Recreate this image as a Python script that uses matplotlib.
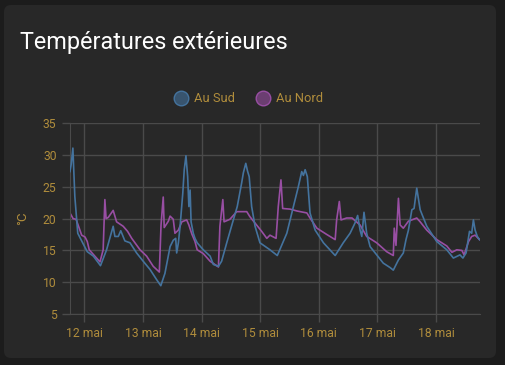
import matplotlib
matplotlib.use("Agg")
import matplotlib.pyplot as plt
import matplotlib.dates as mdates
import matplotlib.patches as mpatches
from matplotlib.lines import Line2D
from matplotlib.transforms import IdentityTransform
import pandas as pd

# heures depuis le 12 mai 00:00
sud_h = [-5.9, -5.4, -4.7, -3.9, -2.7, -0.7, 1.2, 3.7, 6.6, 9.1, 11.8, 12.5, 13.9, 14.9,
         16.6, 18.7, 21.4, 24.1, 26.9, 29.6, 31.3, 33.0, 35.1, 36.4, 37.4, 37.8, 38.5,
         39.2, 40.3, 40.9, 41.6, 42.3, 42.8, 43.3, 43.7, 44.6, 45.3, 46.2, 48.7, 51.5,
         52.8, 54.9, 56.2, 58.3, 61.0, 62.6, 64.4, 65.1, 66.1, 66.8, 67.5, 68.5, 69.9,
         71.9, 76.0, 79.0, 82.9, 85.6, 87.6, 89.0, 89.7, 90.4, 91.3, 92.4, 94.5, 97.9,
         102.7, 106.0, 108.8, 110.8, 111.9, 112.9, 113.6, 114.5, 115.6, 117.0, 119.7,
         122.4, 125.2, 126.5, 128.6, 130.6, 131.7, 132.7, 134.1, 135.0, 136.1, 137.5,
         140.2, 144.3, 148.4, 151.1, 153.8, 155.0, 156.3, 157.7, 158.6, 159.3, 160.0,
         160.9, 161.8]
sud_t = [27.4, 28.5, 31.1, 23.5, 17.7, 16.2, 14.8, 14.1, 12.6, 15.1, 18.8, 17.2, 17.2, 18.1,
         16.5, 16.2, 14.6, 13.3, 12.0, 10.4, 9.45, 11.4, 15.6, 16.6, 16.9, 14.6, 16.2,
         18.8, 24.0, 27.7, 29.9, 26.6, 21.9, 24.5, 19.5, 17.7, 16.9, 16.2, 15.1, 14.1,
         12.8, 12.5, 13.3, 16.2, 19.8, 21.9, 25.6, 27.2, 28.7, 27.5, 26.6, 21.9, 18.8,
         16.2, 15.1, 14.2, 17.7, 21.9, 25.0, 27.4, 26.8, 27.7, 26.6, 20.9, 18.2, 16.2,
         14.2, 16.2, 17.7, 19.3, 20.5, 18.2, 17.2, 21.0, 17.7, 15.6, 14.3,
         13.0, 12.3, 11.9, 13.5, 14.6, 16.7, 18.2, 21.4, 21.6, 24.8, 21.4,
         18.8, 16.4, 15.1, 13.8, 14.3, 13.8, 14.6, 18.0, 17.7, 19.8, 18.2,
         17.2, 16.7]

nord_h = [-5.9, -4.6, -3.4, -2.1, -1.1, 0.3, 1.2, 2.0, 4.3, 6.4, 7.7, 8.4, 8.9, 9.8, 11.8,
          13.2, 15.9, 17.7, 19.4, 22.8, 25.5, 28.2, 30.7, 31.4, 32.3, 32.7, 34.4, 35.1,
          36.4, 37.1, 38.5, 39.9, 41.9, 42.8, 44.0, 45.3, 46.2, 48.7, 51.5, 54.9, 55.5,
          56.7, 57.2, 59.6, 62.4, 66.5, 67.8, 69.9, 72.6, 74.7, 76.0, 78.5, 79.4, 80.5,
          81.2, 84.2, 87.1, 91.1, 92.4, 95.2, 99.3, 102.7, 103.3, 104.4, 105.1, 107.4,
          109.6, 112.9, 115.6, 119.7, 123.8, 126.5, 126.9, 127.6, 128.6, 129.3, 130.6,
          132.7, 136.1, 137.5, 140.2, 144.3, 148.4, 150.5, 152.5, 154.6, 155.5, 157.3,
          158.6, 160.0, 161.8]
nord_t = [20.9, 20.0, 19.9, 18.5, 17.4, 17.1, 16.4, 15.1, 14.1, 13.2, 15.1, 23.0, 20.0, 20.2, 21.3,
          19.5, 18.8, 18.0, 16.9, 15.1, 14.1, 12.5, 11.6, 19.0, 23.4, 18.6, 19.6, 20.4,
          19.9, 17.7, 18.2, 19.5, 19.8, 19.0, 17.6, 16.4, 15.1, 14.5, 13.3, 12.4, 18.8,
          23.0, 19.5, 19.9, 21.1, 21.1, 20.3, 19.3, 18.0, 16.9, 17.4, 16.9, 21.9, 26.1,
          21.6, 21.5, 21.2, 20.9, 20.1, 18.5, 17.5, 16.7, 19.8, 22.7, 19.8, 20.1,
          20.1, 19.0, 17.2, 16.2, 14.8, 14.2, 18.5, 15.8, 23.2, 19.0, 18.5,
          19.6, 20.1, 19.5, 18.2, 16.7, 15.7, 14.7, 15.1, 15.0, 14.3, 16.4,
          17.2, 17.4, 16.7]

series = ["Au Sud", "Au Nord"]
colors = ["#44739e", "#984ea3"]
y_ticks = [5, 10, 15, 20, 25, 30, 35]

start = pd.Timestamp("2023-05-12")
sud_x = start + pd.to_timedelta(sud_h, unit="h")
nord_x = start + pd.to_timedelta(nord_h, unit="h")

txt = "#b08d3c"
grid = "#4a4a4a"

fig = plt.figure(figsize=(5.05, 3.65), dpi=100)
fig.patch.set_facecolor("#1c1c1c")
card = mpatches.FancyBboxPatch((4, 7), 492, 353, boxstyle="round,pad=0,rounding_size=7",
                               transform=IdentityTransform(), facecolor="#282828",
                               edgecolor="none", zorder=0)
fig.add_artist(card)

fig.text(20 / 505, 1 - 42 / 365, "Températures extérieures", color="white",
         fontsize=16.8, family="Roboto", va="center", ha="left")

ax = fig.add_axes([69.7 / 505, 1 - 314 / 365, (480 - 69.7) / 505, (314 - 123.3) / 365])
ax.set_facecolor("none")
ax.plot(sud_x, sud_t, color=colors[0], lw=1.2, zorder=3)
ax.plot(nord_x, nord_t, color=colors[1], lw=1.2, zorder=2)

ax.set_xlim(start - pd.Timedelta(hours=6), start + pd.Timedelta(hours=162))
ax.set_ylim(5, 35)
ax.set_yticks(y_ticks)
ax.xaxis.set_major_locator(mdates.DayLocator())
ax.xaxis.set_major_formatter(plt.FuncFormatter(lambda v, p: f"{mdates.num2date(v).day} mai"))
ax.grid(True, color=grid, lw=1)
for s in ["top", "right"]:
    ax.spines[s].set_visible(False)
for s in ["left", "bottom"]:
    ax.spines[s].set_color(grid)
ax.tick_params(colors=grid, labelcolor=txt, length=6, width=1, labelsize=8.7)
for lab in ax.get_xticklabels() + ax.get_yticklabels():
    lab.set_family("Roboto")
ax.set_ylabel("°C", color=txt, fontsize=9.5, family="Roboto", labelpad=10)

# légende
for i, (name, c) in enumerate(zip(series, colors)):
    cx = [181, 263][i]
    fig.add_artist(Line2D([cx / 505], [1 - 98 / 365], marker="o", markersize=10.5,
                          markerfacecolor=c + "99", markeredgecolor=c, markeredgewidth=1,
                          transform=fig.transFigure, linestyle="none"))
    fig.text((cx + 13) / 505, 1 - 98 / 365, name, color=txt, fontsize=9.3,
             family="Roboto", va="center", ha="left")

fig.savefig("out.png", dpi=100, facecolor=fig.get_facecolor())
